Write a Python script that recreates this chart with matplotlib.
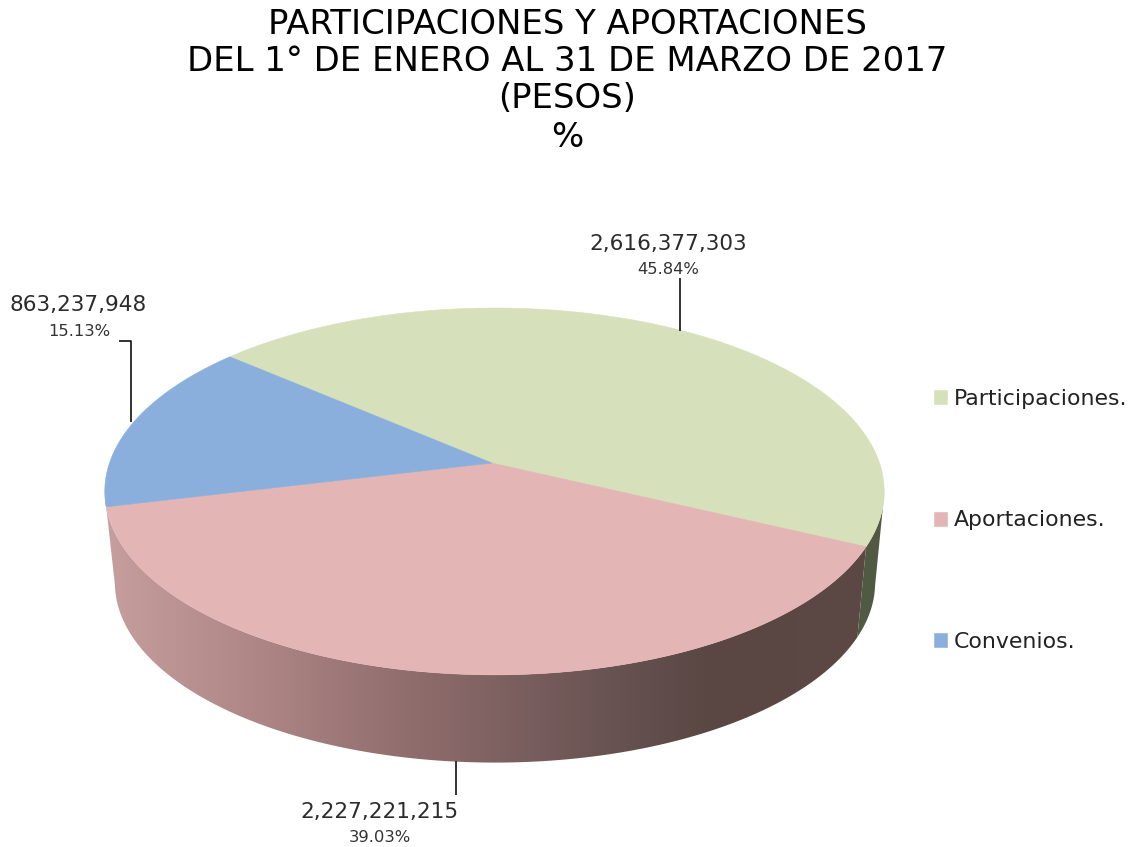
import numpy as np
import matplotlib
matplotlib.use("Agg")
import matplotlib.pyplot as plt
from matplotlib.patches import Polygon
from matplotlib.colors import LinearSegmentedColormap

categories = ["Participaciones.", "Aportaciones.", "Convenios."]
values = [2616377303, 2227221215, 863237948]
value_labels = ["2,616,377,303", "2,227,221,215", "863,237,948"]
pct_labels = ["45.84%", "39.03%", "15.13%"]
title_lines = ["PARTICIPACIONES Y APORTACIONES",
               "DEL 1° DE ENERO AL 31 DE MARZO DE 2017",
               "(PESOS)", "%"]

TOP_COLORS = ["#D6E1BB", "#E4B5B5", "#8AAFDC"]
START = 139.2
K = 0.155
CX, CY, A, B = 492.0, 463.0, 385.0, 179.0
RIM_SHIFT = 2.5
BX, BY, A2, B2 = 495.0, 555.0, 375.5, 175.4


def rim(theta_deg, cx=CX + RIM_SHIFT, cy=CY, a=A, b=B):
    t = np.radians(theta_deg)
    u, v = np.cos(t), np.sin(t)
    d = 1 + K * v
    return cx + a * u / d, cy - b * v / d


fig = plt.figure(figsize=(11.3, 8.47), dpi=100)
ax = fig.add_axes([0, 0, 1, 1])
ax.set_xlim(0, 1130)
ax.set_ylim(847, 0)
ax.axis("off")

fracs = np.array(values, dtype=float) / np.sum(values)
edges = START - 360 * np.concatenate([[0], np.cumsum(fracs)])


def wall_path(t0, t1):
    ts = np.linspace(t0, t1, 200)
    tx, ty = rim(ts)
    bx, by = rim(ts[::-1], BX, BY, A2, B2)
    return np.column_stack([np.r_[tx, bx], np.r_[ty, by]])


# side walls with the horizontal shading
stops = [(0.00, (198, 158, 158)), (0.18, (176, 136, 136)), (0.38, (146, 110, 110)),
         (0.52, (124, 96, 96)), (0.68, (100, 80, 78)), (0.78, (90, 71, 68)),
         (1.00, (92, 72, 68))]
grad_pink = LinearSegmentedColormap.from_list(
    "pink_wall", [(p, tuple(c / 255 for c in rgb)) for p, rgb in stops])
grad = np.linspace(0, 1, 512).reshape(1, -1)
wall = Polygon(wall_path(edges[1], edges[2] - 4), closed=True, transform=ax.transData,
               fc="none", ec="none")
ax.add_patch(wall)
im = ax.imshow(grad, extent=(105, 884, 780, 480), cmap=grad_pink, aspect="auto", zorder=1)
im.set_clip_path(wall)
ax.set_xlim(0, 1130)
ax.set_ylim(847, 0)

ax.add_patch(Polygon(wall_path(edges[1], edges[1] + 16), closed=True,
                     fc="#505A42", ec="none", zorder=1.5))

# top faces
handles = []
for i, color in enumerate(TOP_COLORS):
    ts = np.linspace(edges[i], edges[i + 1], 200)
    x, y = rim(ts)
    pts = np.column_stack([np.r_[CX, x], np.r_[CY, y]])
    p = Polygon(pts, closed=True, fc=color, ec=color, lw=0.4, zorder=2, label=categories[i])
    ax.add_patch(p)
    handles.append(p)

# leader lines, anchored on each slice's mid angle
mids = (edges[:-1] + edges[1:]) / 2
LINE = dict(color="#222222", lw=1.3, zorder=3, solid_capstyle="butt")

x0, y0 = rim(mids[0])
ax.plot([x0 - 1.5, x0 - 1.5], [y0, 278], **LINE)
x2, y2 = rim(mids[2])
ax.plot([x2 - 2.5, x2 - 2.5, x2 - 14.5], [y2, 341, 341], **LINE)
x1, y1 = rim(mids[1], BX, BY, A2, B2)
ax.plot([x1 + 8, x1 + 8], [y1, 795], **LINE)

VAL = dict(ha="center", va="center", fontsize=15.6, color="#2b2b2b", family="DejaVu Sans")
PCT = dict(ha="center", va="center", fontsize=11.8, color="#333333", family="DejaVu Sans")
ax.text(668, 244, value_labels[0], **VAL)
ax.text(668, 269, pct_labels[0], **PCT)
ax.text(379, 812, value_labels[1], **VAL)
ax.text(380, 838, pct_labels[1], **PCT)
ax.text(78, 305, value_labels[2], **VAL)
ax.text(79, 331, pct_labels[2], **PCT)

# title
for line, yb in zip(title_lines, [34, 71, 108, 147]):
    ax.text(567, yb, line, ha="center", va="baseline", fontsize=24.4, color="black",
            family="DejaVu Sans")

leg = ax.legend(handles=handles, loc="center left", bbox_to_anchor=(934 / 1130, 1 - 520.5 / 847),
                frameon=False, fontsize=15.8, labelspacing=4.62, handlelength=0.6,
                handleheight=0.6, handletextpad=0.3, borderpad=0, borderaxespad=0,
                labelcolor="#222222")

fig.savefig("out.png", dpi=100, facecolor="white")
